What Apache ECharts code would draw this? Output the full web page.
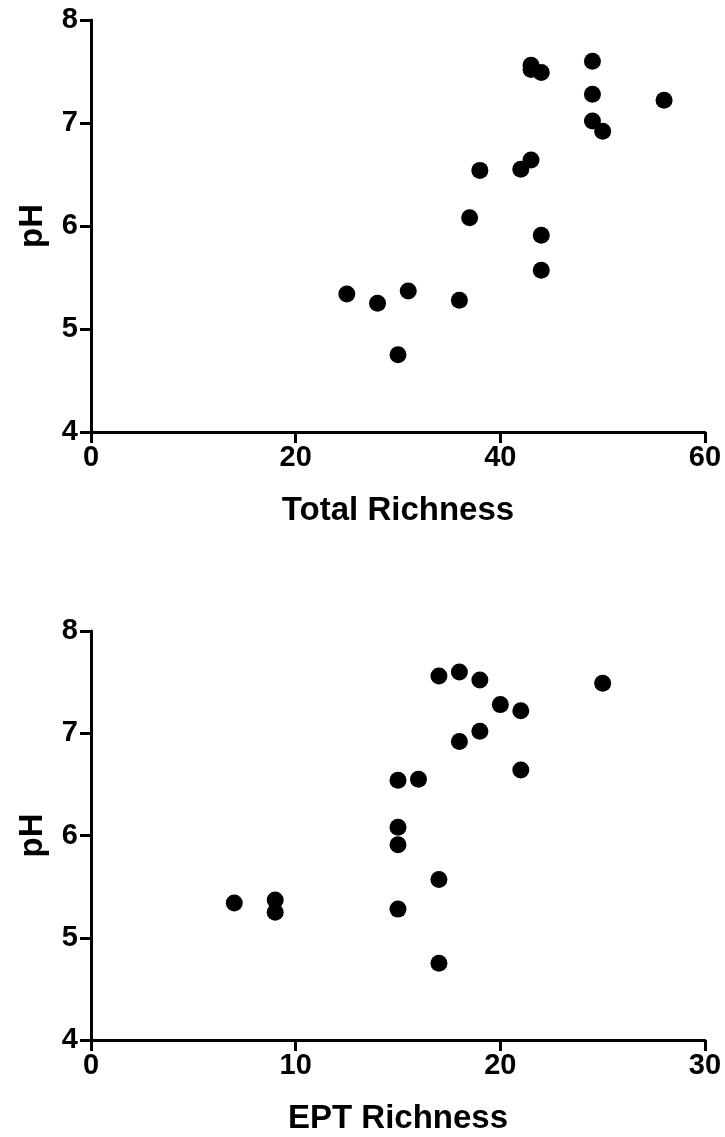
<!DOCTYPE html>
<html>
<head>
<meta charset="utf-8">
<script src="https://cdn.jsdelivr.net/npm/echarts@6/dist/echarts.min.js"></script>
<style>
  html, body { margin: 0; padding: 0; background: #fff; }
  #chart { width: 725px; height: 1137px; }
</style>
</head>
<body>
<div id="chart"></div>
<script>
// pH per site, same order in both panels
var ph = [5.34, 5.25, 5.37, 4.75, 5.28, 6.08, 6.54, 6.55, 6.64, 5.91, 5.57, 7.56, 7.52, 7.49, 7.60, 7.28, 7.02, 6.92, 7.22];
var totalRichness = [25, 28, 31, 30, 36, 37, 38, 42, 43, 44, 44, 43, 43, 44, 49, 49, 49, 50, 56];
var eptRichness = [7, 9, 9, 17, 15, 15, 15, 16, 21, 15, 17, 17, 19, 25, 18, 20, 19, 18, 21];

var xTicksTop = [0, 20, 40, 60];
var xTicksBottom = [0, 10, 20, 30];
var yTicks = [4, 5, 6, 7, 8];

var font = 'Liberation Sans, Arial, sans-serif';

function pairs(xs, ys) {
    var out = [];
    for (var i = 0; i < xs.length; i++) {
        out.push([xs[i], ys[i]]);
    }
    return out;
}

function xAxis(idx, ticks, name) {
    return {
        type: 'value',
        gridIndex: idx,
        min: ticks[0],
        max: ticks[ticks.length - 1],
        interval: ticks[1] - ticks[0],
        name: name,
        nameLocation: 'middle',
        nameGap: 62,
        nameTextStyle: { color: '#000', fontFamily: font, fontWeight: 'bold', fontSize: 33 },
        axisLine: { show: true, lineStyle: { color: '#000', width: 3 } },
        axisTick: { show: true, length: 11, lineStyle: { color: '#000', width: 3 } },
        axisLabel: { color: '#000', fontFamily: font, fontWeight: 'bold', fontSize: 29, margin: 11 },
        splitLine: { show: false }
    };
}

function yAxis(idx) {
    return {
        type: 'value',
        gridIndex: idx,
        min: yTicks[0],
        max: yTicks[yTicks.length - 1],
        interval: 1,
        name: 'pH',
        nameLocation: 'middle',
        nameGap: 42,
        nameTextStyle: { color: '#000', fontFamily: font, fontWeight: 'bold', fontSize: 33 },
        axisLine: { show: true, lineStyle: { color: '#000', width: 3 } },
        axisTick: { show: true, length: 11, lineStyle: { color: '#000', width: 3 } },
        axisLabel: { color: '#000', fontFamily: font, fontWeight: 'bold', fontSize: 29, margin: 13 },
        splitLine: { show: false }
    };
}

var chart = echarts.init(document.getElementById('chart'));
chart.setOption({
    animation: false,
    backgroundColor: '#fff',
    grid: [
        { left: 91, top: 20, width: 614, height: 412 },
        { left: 91, top: 631, width: 614, height: 409 }
    ],
    xAxis: [
        xAxis(0, xTicksTop, 'Total Richness'),
        xAxis(1, xTicksBottom, 'EPT Richness')
    ],
    yAxis: [yAxis(0), yAxis(1)],
    series: [{
        type: 'scatter',
        xAxisIndex: 0,
        yAxisIndex: 0,
        symbol: 'circle',
        symbolSize: 17,
        itemStyle: { color: '#000', opacity: 1 },
        data: pairs(totalRichness, ph)
    }, {
        type: 'scatter',
        xAxisIndex: 1,
        yAxisIndex: 1,
        symbol: 'circle',
        symbolSize: 17,
        itemStyle: { color: '#000', opacity: 1 },
        data: pairs(eptRichness, ph)
    }]
});
</script>
</body>
</html>
